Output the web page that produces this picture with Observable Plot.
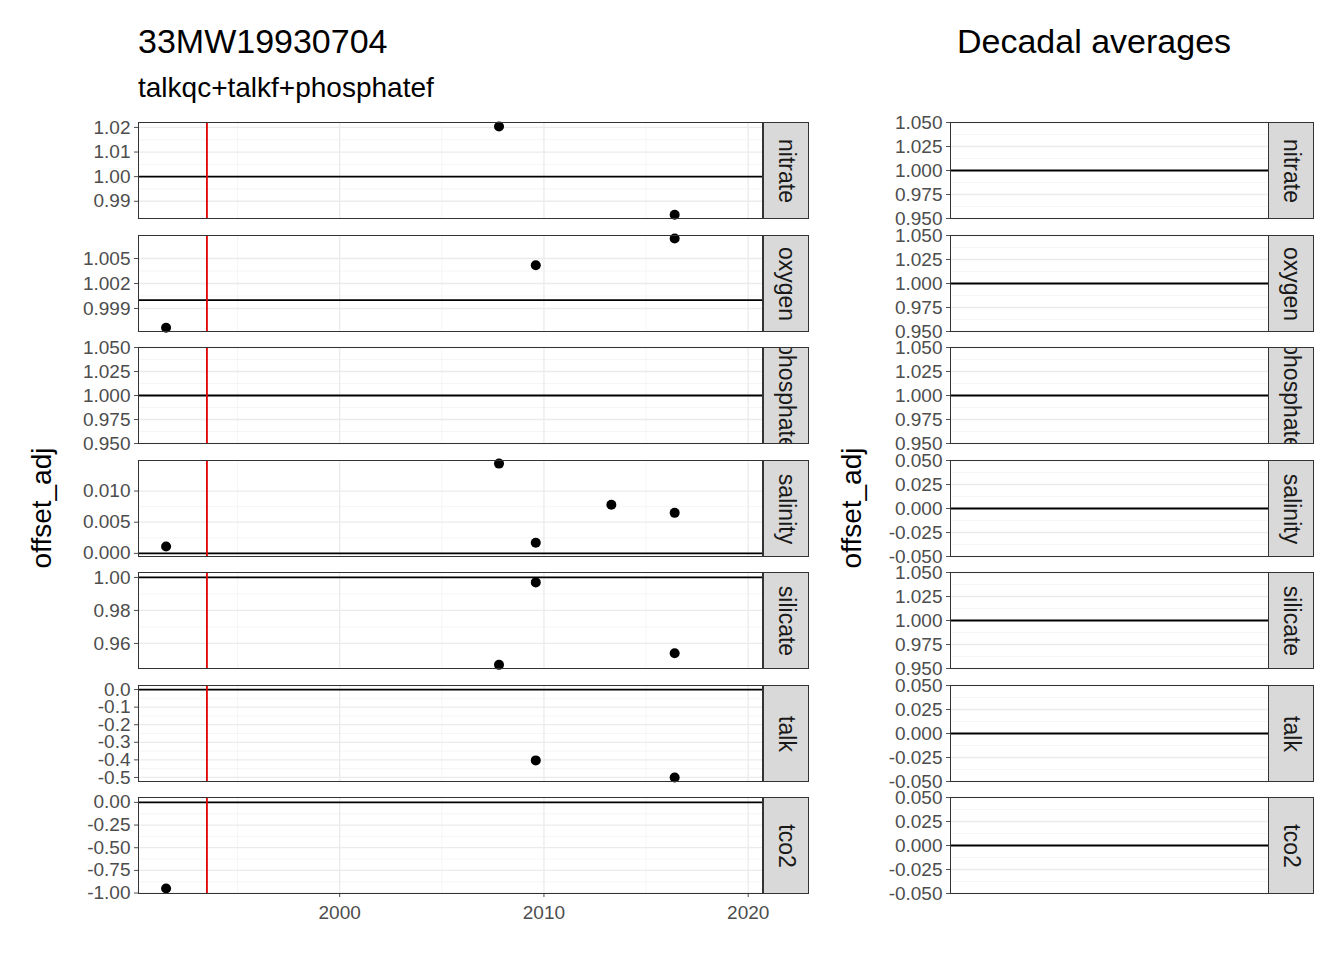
<!DOCTYPE html>
<html>
<head>
<meta charset="utf-8">
<script src="https://cdn.jsdelivr.net/npm/d3@7"></script>
<script src="https://cdn.jsdelivr.net/npm/@observablehq/plot@0.6"></script>
<style>
  body { margin: 0; background: white; font-family: "Liberation Sans", Arial, sans-serif; }
  #chart { position: relative; width: 1344px; height: 960px; }
  #chart svg text { font-size: 19px !important; fill: #4d4d4d; }
  .abs { position: absolute; }
  .strip { position: absolute; background: #d9d9d9; border: 1px solid #333; box-sizing: border-box; overflow: hidden; }
  .strip span { position: absolute; left: 50%; top: 50%; transform: translate(-50%, -50%) rotate(90deg); font-size: 23px; color: #1a1a1a; white-space: nowrap; }
</style>
</head>
<body>
<div id="chart"></div>
<script>
const params = ["nitrate", "oxygen", "phosphate", "salinity", "silicate", "talk", "tco2"];
const cruiseYear = 1993.5;

// per parameter: cruise years and offsets
const nitrateYears = [2007.8, 2016.4];
const nitrateValues = [1.0204, 0.9845];
const oxygenYears = [1991.5, 2009.6, 2016.4];
const oxygenValues = [0.9967, 1.0042, 1.0074];
const phosphateYears = [];
const phosphateValues = [];
const salinityYears = [1991.5, 2007.8, 2009.6, 2013.3, 2016.4];
const salinityValues = [0.0011, 0.0144, 0.0017, 0.0078, 0.0065];
const silicateYears = [2009.6, 2007.8, 2016.4];
const silicateValues = [0.997, 0.947, 0.954];
const talkYears = [2009.6, 2016.4];
const talkValues = [-0.403, -0.5];
const tco2Years = [1991.5];
const tco2Values = [-0.95];

const refLine = {nitrate: 1, oxygen: 1, phosphate: 1, salinity: 0, silicate: 1, talk: 0, tco2: 0};
const yDomains = {
  nitrate: [0.983, 1.022], oxygen: [0.99624, 1.00776], phosphate: [0.95, 1.05],
  salinity: [-0.0005, 0.0149], silicate: [0.9448, 1.003], talk: [-0.523, 0.023], tco2: [-1.005, 0.054]
};
const yTicks = {
  nitrate: [0.99, 1.00, 1.01, 1.02], oxygen: [0.999, 1.002, 1.005],
  phosphate: [0.95, 0.975, 1, 1.025, 1.05], salinity: [0, 0.005, 0.01],
  silicate: [0.96, 0.98, 1], talk: [0, -0.1, -0.2, -0.3, -0.4, -0.5],
  tco2: [0, -0.25, -0.5, -0.75, -1]
};
const yFormats = {nitrate: ".2f", oxygen: ".3f", phosphate: ".3f", salinity: ".3f", silicate: ".2f", talk: ".1f", tco2: ".2f"};
const xTicks = [2000, 2010, 2020];
const xMinor = [1995, 2005, 2015];
const decadalTicksOne = [0.95, 0.975, 1, 1.025, 1.05];
const decadalTicksZero = [-0.05, -0.025, 0, 0.025, 0.05];

const data = {
  nitrate: nitrateYears.map((y, i) => ({year: y, value: nitrateValues[i]})),
  oxygen: oxygenYears.map((y, i) => ({year: y, value: oxygenValues[i]})),
  phosphate: phosphateYears.map((y, i) => ({year: y, value: phosphateValues[i]})),
  salinity: salinityYears.map((y, i) => ({year: y, value: salinityValues[i]})),
  silicate: silicateYears.map((y, i) => ({year: y, value: silicateValues[i]})),
  talk: talkYears.map((y, i) => ({year: y, value: talkValues[i]})),
  tco2: tco2Years.map((y, i) => ({year: y, value: tco2Values[i]}))
};

const chart = document.getElementById("chart");
const tops = [122, 235, 347, 460, 572, 685, 797];
const ph = 96;

function midpoints(t) {
  const s = [...t].sort((a, b) => a - b), m = [];
  for (let i = 1; i < s.length; i++) m.push((s[i - 1] + s[i]) / 2);
  return m;
}
const fmt = f => d => d3.format(f)(d).replace("\u2212", "-");

function place(el, left, top) {
  el.style.position = "absolute"; el.style.left = left + "px"; el.style.top = top + "px";
  chart.append(el);
}
function strip(name, left, top) {
  const s = document.createElement("div");
  s.className = "strip";
  s.style.left = left + "px"; s.style.top = top + "px";
  s.style.width = "46px"; s.style.height = (ph + 1) + "px";
  s.innerHTML = `<span>${name}</span>`;
  chart.append(s);
}

const axisStyle = {fontFamily: "Liberation Sans, Arial, sans-serif", color: "#4d4d4d", overflow: "visible"};

params.forEach((p, i) => {
  const last = i === params.length - 1;
  const ticks = yTicks[p];
  // left panel
  const left = Plot.plot({
    width: 763, height: ph + (last ? 40 : 0),
    marginLeft: 138, marginRight: 1, marginTop: 0, marginBottom: last ? 40 : 0,
    style: axisStyle,
    x: {domain: [1990.15, 2020.7], ticks: xTicks, tickFormat: d => String(d), tickSize: 4, tickPadding: 8, label: null, axis: last ? "bottom" : null},
    y: {domain: yDomains[p], ticks, tickFormat: fmt(yFormats[p]), tickSize: 4, tickPadding: 4, label: null},
    marks: [
      Plot.ruleY(midpoints(ticks), {stroke: "#f2f2f2", strokeWidth: 0.8}),
      Plot.ruleX(xMinor, {stroke: "#f2f2f2", strokeWidth: 0.8}),
      Plot.ruleY(ticks, {stroke: "#ebebeb", strokeWidth: 1.3}),
      Plot.ruleX(xTicks, {stroke: "#ebebeb", strokeWidth: 1.3}),
      Plot.ruleY([refLine[p]], {stroke: "black", strokeWidth: 1.8}),
      Plot.ruleX([cruiseYear], {stroke: "#e00000", strokeWidth: 1.8}),
      Plot.dot(data[p], {x: "year", y: "value", r: 5, fill: "black", clip: false}),
      Plot.frame({stroke: "#333", strokeWidth: 1})
    ]
  });
  place(left, 0, tops[i]);
  strip(p, 763, tops[i]);

  // right panel (decadal averages, no values)
  const dt = refLine[p] === 1 ? decadalTicksOne : decadalTicksZero;
  const right = Plot.plot({
    width: 1269, height: ph,
    marginLeft: 950, marginRight: 1, marginTop: 0, marginBottom: 0,
    style: axisStyle,
    x: {domain: [0, 1], axis: null},
    y: {domain: [dt[0], dt[4]], ticks: dt, tickFormat: fmt(".3f"), tickSize: 4, tickPadding: 4, label: null},
    marks: [
      Plot.ruleY(midpoints(dt), {stroke: "#f2f2f2", strokeWidth: 0.8}),
      Plot.ruleY(dt, {stroke: "#ebebeb", strokeWidth: 1.3}),
      Plot.ruleY([refLine[p]], {stroke: "black", strokeWidth: 1.8}),
      Plot.frame({stroke: "#333", strokeWidth: 1})
    ]
  });
  place(right, 0, tops[i]);
  strip(p, 1268, tops[i]);
});

function text(str, left, top, size, extra = "") {
  const d = document.createElement("div");
  d.className = "abs";
  d.style.cssText += `left:${left}px;top:${top}px;font-size:${size}px;color:#000;white-space:nowrap;${extra}`;
  d.textContent = str;
  chart.append(d);
}
text("33MW19930704", 138, 22, 34);
text("talkqc+talkf+phosphatef", 138, 72, 28);
text("Decadal averages", 957, 22, 34);
text("offset_adj", 42, 508, 28, "transform:translate(-50%,-50%) rotate(-90deg);");
text("offset_adj", 852, 508, 28, "transform:translate(-50%,-50%) rotate(-90deg);");
</script>
</body>
</html>
